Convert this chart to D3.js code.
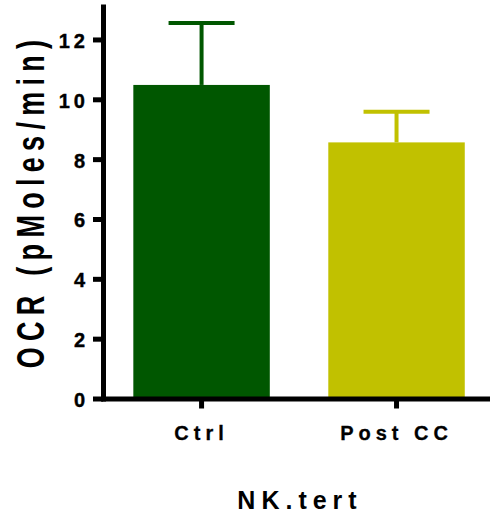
<!DOCTYPE html>
<html>
<head>
<meta charset="utf-8">
<script src="https://cdn.jsdelivr.net/npm/d3@7"></script>
<style>
  body { margin: 0; background: #fff; }
  svg text { font-family: "Liberation Sans", Arial, sans-serif; font-weight: bold; fill: #000; }
</style>
</head>
<body>
<svg id="chart" width="490" height="520"></svg>
<script>
// data
var groups = ["Ctrl", "Post CC"]
var means = [10.48, 8.56]
var errTop = [12.55, 9.58]
var barColors = ["#005700", "#c1c100"]
var yTicks = [0, 2, 4, 6, 8, 10, 12]
var yTitle = "OCR (pMoles/min)"
var xTitle = "NK.tert"

var svg = d3.select("#chart")

var y = d3.scaleLinear()
    .domain([0, 13.1])
    .range([398.5, 398.5 - 13.1 * 29.92])

var x = d3.scaleBand()
    .domain(groups)
    .range([103.5, 494.6])
    .paddingInner(0.3)
    .paddingOuter(0.153)

// bars
svg.append("g")
    .selectAll("rect")
    .data(groups)
    .enter()
    .append("rect")
    .attr("x", d => x(d))
    .attr("y", (d, i) => y(means[i]))
    .attr("width", x.bandwidth())
    .attr("height", (d, i) => y(0) - y(means[i]))
    .attr("fill", (d, i) => barColors[i])

// error bars (upper only)
var err = svg.append("g")
    .selectAll("g")
    .data(groups)
    .enter()
    .append("g")
    .attr("stroke", (d, i) => barColors[i])
    .attr("stroke-width", 4)

err.append("line")
    .attr("x1", d => x(d) + x.bandwidth() / 2)
    .attr("x2", d => x(d) + x.bandwidth() / 2)
    .attr("y1", (d, i) => y(means[i]))
    .attr("y2", (d, i) => y(errTop[i]))

err.append("line")
    .attr("x1", d => x(d) + x.bandwidth() / 2 - 33)
    .attr("x2", d => x(d) + x.bandwidth() / 2 + 33)
    .attr("y1", (d, i) => y(errTop[i]))
    .attr("y2", (d, i) => y(errTop[i]))

// y axis
var yAxis = svg.append("g")
    .attr("transform", "translate(103,0)")
    .call(d3.axisLeft(y).tickValues(yTicks).tickSize(10).tickSizeOuter(0).tickPadding(4))

yAxis.select(".domain")
    .attr("stroke", "#000")
    .attr("stroke-width", 5)
    .attr("stroke-linecap", "square")
yAxis.selectAll(".tick line")
    .attr("stroke", "#000")
    .attr("stroke-width", 5)
yAxis.selectAll(".tick text")
    .attr("font-size", 20)
    .attr("letter-spacing", 4)
    .attr("dy", "0.4em")
    .attr("stroke", "#000")
    .attr("stroke-width", 0.4)
    .attr("font-family", null)

// x axis
var xAxis = svg.append("g")
    .attr("transform", "translate(0,398.5)")
    .call(d3.axisBottom(x).tickSize(10).tickSizeOuter(0))

xAxis.select(".domain")
    .attr("stroke", "#000")
    .attr("stroke-width", 5)
    .attr("stroke-linecap", "square")
xAxis.selectAll(".tick line")
    .attr("stroke", "#000")
    .attr("stroke-width", 5)
xAxis.selectAll(".tick text")
    .attr("font-size", 20)
    .attr("letter-spacing", 5)
    .attr("y", 41)
    .attr("dy", 0)
    .attr("stroke", "#000")
    .attr("stroke-width", 0.3)
    .attr("font-family", null)

// axis titles
svg.append("text")
    .attr("transform", "translate(44,201) rotate(-90) scale(1,1.45)")
    .attr("text-anchor", "middle")
    .attr("font-size", 27)
    .attr("letter-spacing", 6.3)
    .text(yTitle)

svg.append("text")
    .attr("x", 300)
    .attr("y", 509)
    .attr("text-anchor", "middle")
    .attr("font-size", 25)
    .attr("letter-spacing", 6)
    .text(xTitle)
</script>
</body>
</html>
